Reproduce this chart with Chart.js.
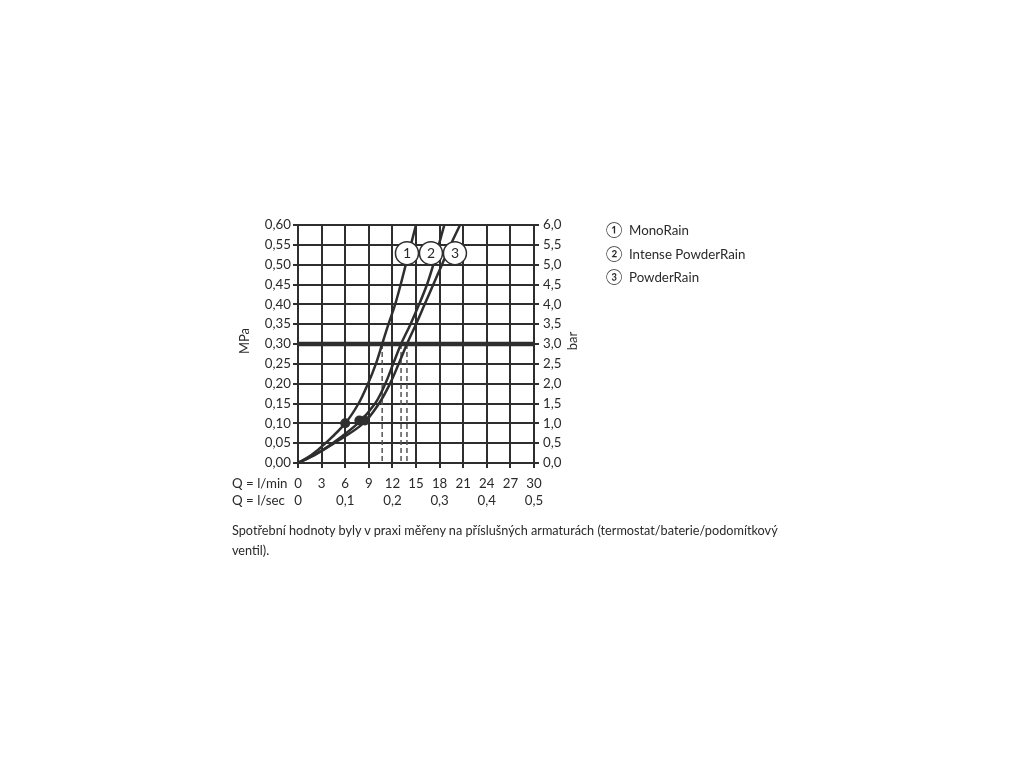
<!DOCTYPE html>
<html>
<head>
<meta charset="utf-8">
<script src="https://cdn.jsdelivr.net/npm/chart.js@4"></script>
<style>
  body { margin: 0; background: #fff; font-family: Lato, sans-serif; color: #2a2a2a; }
  #wrap { position: relative; width: 1024px; height: 768px; }
  #chart { position: absolute; left: 0; top: 0; }
  .legend { position: absolute; left: 606px; top: 219px; font-size: 13.3px; }
  .legend div { height: 23.5px; line-height: 23.5px; }
  .legend span { display: inline-block; width: 23px; font-size: 15px; line-height: 15px; }
  .caption { position: absolute; left: 232px; top: 520px; font-size: 12.7px; line-height: 20px; white-space: nowrap; }
</style>
</head>
<body>
<div id="wrap">
  <canvas id="chart" width="1024" height="768"></canvas>
  <div class="legend">
    <div><span>①</span>MonoRain</div>
    <div><span>②</span>Intense PowderRain</div>
    <div><span>③</span>PowderRain</div>
  </div>
  <div class="caption">Spotřební hodnoty byly v praxi měřeny na příslušných armaturách (termostat/baterie/podomítkový<br>ventil).</div>
</div>
<script>
// tick labels
const minLabels = ['0', '3', '6', '9', '12', '15', '18', '21', '24', '27', '30'];
const secLabels = ['0', '0,1', '0,2', '0,3', '0,4', '0,5'];
const mpaLabels = ['0,00', '0,05', '0,10', '0,15', '0,20', '0,25', '0,30', '0,35', '0,40', '0,45', '0,50', '0,55', '0,60'];
const barLabels = ['0,0', '0,5', '1,0', '1,5', '2,0', '2,5', '3,0', '3,5', '4,0', '4,5', '5,0', '5,5', '6,0'];

// pressure (MPa) and flow (l/min) of each shower head
const pressure = [0, 0.02, 0.05, 0.10, 0.15, 0.20, 0.25, 0.30, 0.35, 0.40, 0.45, 0.50, 0.55, 0.60];
const monoRain = [0, 1.7, 3.5, 6.0, 7.7, 8.9, 9.9, 10.7, 11.5, 12.35, 13.05, 13.7, 14.35, 15.0];
const intensePowderRain = [0, 2.0, 4.4, 7.6, 9.8, 11.1, 12.1, 13.1, 14.3, 15.4, 16.4, 17.2, 17.9, 18.6];
const powderRain = [0, 2.1, 4.6, 8.3, 10.3, 11.7, 12.8, 13.85, 15.0, 16.1, 17.2, 18.3, 19.4, 20.6];

// marked points near 1 bar
const markQ = [6.0, 7.8, 8.5];
const markP = [0.10, 0.107, 0.107];

// reference pressure 3 bar
const refP = 0.30;

// numbered tags
const tagText = ['1', '2', '3'];
const tagQ = [13.85, 16.9, 19.95];
const tagP = 0.529;

const ink = '#2e2e2e';
const textInk = '#2a2a2a';
const pts = (qs, ps) => qs.map((q, i) => ({ x: q, y: Array.isArray(ps) ? ps[i] : ps }));

const refIdx = pressure.indexOf(refP);
const curves = [monoRain, intensePowderRain, powderRain];

const datasets = [
  {
    data: pts(tagQ, tagP), showLine: false, order: 0,
    pointRadius: 11.5, backgroundColor: '#fff', borderColor: ink, borderWidth: 1.5
  },
  {
    data: pts(markQ, markP), showLine: false, order: 1,
    pointRadius: 5, backgroundColor: ink, borderWidth: 0
  }
];
curves.forEach(c => datasets.push({
  data: pts(c, pressure), showLine: true, order: 2, tension: 0.35,
  borderColor: ink, borderWidth: 2.5, pointRadius: 0
}));
datasets.push({
  data: pts([0, 30], refP), showLine: true, order: 3,
  borderColor: ink, borderWidth: 4.5, pointRadius: 0
});
curves.forEach(c => datasets.push({
  data: pts([c[refIdx], c[refIdx]], [refP, 0]), showLine: true, order: 4,
  borderColor: '#555', borderWidth: 1.5, borderDash: [5, 3], pointRadius: 0
}));

const extras = {
  id: 'extras',
  afterDatasetsDraw(chart) {
    const { ctx, chartArea: a, scales } = chart;
    ctx.save();
    ctx.fillStyle = textInk;
    ctx.font = '14px Lato';
    ctx.textAlign = 'center';
    ctx.textBaseline = 'middle';
    tagText.forEach((t, i) => {
      ctx.fillText(t, scales.x.getPixelForValue(tagQ[i]), scales.y.getPixelForValue(tagP));
    });
    // axis titles (both read bottom to top)
    ctx.font = '13px Lato';
    [['MPa', a.left - 53], ['bar', a.right + 39]].forEach(([t, x]) => {
      ctx.save();
      ctx.translate(x, a.top + 116);
      ctx.rotate(-Math.PI / 2);
      ctx.fillText(t, 0, 0);
      ctx.restore();
    });
    ctx.font = '13.3px Lato';
    ctx.textAlign = 'left';
    ctx.fillText('Q = l/min', 232, a.bottom + 21);
    ctx.fillText('Q = l/sec', 232, a.bottom + 37.5);
    ctx.restore();
  }
};

const tickFont = { family: 'Lato', size: 13.3 };
const gridStyle = { color: ink, lineWidth: 2, tickLength: 5 };

new Chart(document.getElementById('chart'), {
  type: 'scatter',
  data: { datasets },
  options: {
    responsive: false,
    animation: false,
    layout: { padding: { left: 238, right: 440, top: 225, bottom: 256 } },
    plugins: { legend: { display: false }, tooltip: { enabled: false } },
    scales: {
      x: {
        type: 'linear', position: 'bottom', min: 0, max: 30, weight: 0,
        ticks: { stepSize: 3, autoSkip: false, maxRotation: 0, color: textInk, font: tickFont, padding: 8,
          callback: (v, i) => minLabels[i] },
        grid: gridStyle,
        border: { color: ink, width: 2 },
        afterFit: s => { s.height = 29; }
      },
      x2: {
        type: 'linear', position: 'bottom', min: 0, max: 0.5, weight: 1,
        ticks: { stepSize: 0.1, autoSkip: false, maxRotation: 0, color: textInk, font: tickFont, padding: 0.5,
          callback: (v, i) => secLabels[i] },
        grid: { display: false, drawTicks: false },
        border: { display: false },
        afterFit: s => { s.height = 20; }
      },
      y: {
        type: 'linear', position: 'left', min: 0, max: 0.6,
        ticks: { stepSize: 0.05, autoSkip: false, color: textInk, font: tickFont, padding: 2,
          callback: (v, i) => mpaLabels[i] },
        grid: gridStyle,
        border: { color: ink, width: 2 },
        afterFit: s => { s.width = 60; }
      },
      y2: {
        type: 'linear', position: 'right', min: 0, max: 6,
        ticks: { stepSize: 0.5, autoSkip: false, color: textInk, font: tickFont, padding: 4,
          callback: (v, i) => barLabels[i] },
        grid: { color: ink, lineWidth: 2, tickLength: 5, drawOnChartArea: false },
        border: { color: ink, width: 2 },
        afterFit: s => { s.width = 50; }
      }
    }
  },
  plugins: [extras]
});
</script>
</body>
</html>
